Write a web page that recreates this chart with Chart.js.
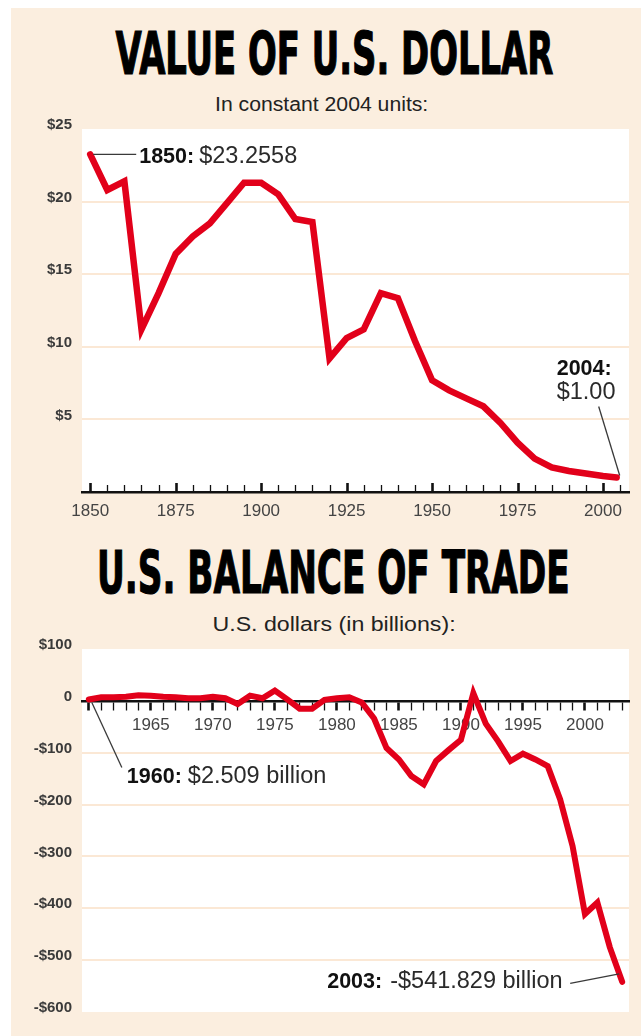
<!DOCTYPE html>
<html><head><meta charset="utf-8">
<script src="https://cdn.jsdelivr.net/npm/chart.js@4.4.1/dist/chart.umd.min.js"></script>
<style>
html,body{margin:0;padding:0;background:#fff;}
body{width:641px;height:1036px;position:relative;overflow:hidden;}
#panel{position:absolute;left:11px;top:8px;width:630px;height:1028px;background:#FBEEDF;}
.title{position:absolute;white-space:nowrap;font-family:"Liberation Sans Narrow","DejaVu Sans Condensed","Liberation Sans",sans-serif;font-weight:700;font-size:58px;line-height:1;color:#000;-webkit-text-stroke:1.2px #000;transform-origin:50% 50%;}
.sub{position:absolute;white-space:nowrap;font-family:"Liberation Sans",Arial,sans-serif;font-size:20px;line-height:1;color:#222;transform-origin:50% 50%;}
canvas{position:absolute;left:0;}
</style></head><body>
<div id="panel"></div>
<div class="title" id="title1" style="top:25px">VALUE OF U.S. DOLLAR</div>
<div class="sub" id="sub1" style="top:94px">In constant 2004 units:</div>
<canvas id="c1" width="641" height="420" style="top:110px"></canvas>
<div class="title" id="title2" style="top:544px">U.S. BALANCE OF TRADE</div>
<div class="sub" id="sub2" style="top:614px">U.S. dollars (in billions):</div>
<canvas id="c2" width="641" height="406" style="top:630px"></canvas>
<script>
// ---------- DATA ----------
const dollarYears = [1850,1855,1860,1865,1870,1875,1880,1885,1890,1895,1900,1905,1910,1915,1920,1925,1930,1935,1940,1945,1950,1955,1960,1965,1970,1975,1980,1985,1990,1995,2000,2004];
const dollarValues = [23.2558,20.8,21.4,11.2,13.7,16.4,17.6,18.5,19.9,21.3,21.3,20.5,18.8,18.6,9.2,10.6,11.2,13.7,13.35,10.4,7.7,7.0,6.45,5.9,4.76,3.4,2.3,1.7,1.45,1.27,1.1,1.0];
const dollarTickYears = [1850,1855,1860,1865,1870,1875,1880,1885,1890,1895,1900,1905,1910,1915,1920,1925,1930,1935,1940,1945,1950,1955,1960,1965,1970,1975,1980,1985,1990,1995,2000,2005];
const dollarTickLabels = [1850,1875,1900,1925,1950,1975,2000];
const dollarYTicks = [0,5,10,15,20,25];

const tradeYears = [1960,1961,1962,1963,1964,1965,1966,1967,1968,1969,1970,1971,1972,1973,1974,1975,1976,1977,1978,1979,1980,1981,1982,1983,1984,1985,1986,1987,1988,1989,1990,1991,1992,1993,1994,1995,1996,1997,1998,1999,2000,2001,2002,2003];
const tradeValues = [2.509,7,7,8,11,10,8,7,5,5,8,5,-6,10,5,20,3,-15,-15,2,5,7,-3,-34,-91,-113,-145,-161,-116,-95,-75,15,-44,-78,-116,-102,-113,-126,-190,-280,-411,-389,-475,-541.829];
const tradeTickLabels = [1965,1970,1975,1980,1985,1990,1995,2000];
const tradeYTicks = [-600,-500,-400,-300,-200,-100,0,100];

// ---------- STYLE ----------
const RED = '#E2001A';
const GRID = '#FBE8D5';
const SANS = '"Liberation Sans", Arial, sans-serif';

function placeText(id, cx, targetW) {
  const el = document.getElementById(id);
  const w = el.offsetWidth;
  el.style.left = (cx - w / 2) + 'px';
  el.style.transform = 'scaleX(' + (targetW / w) + ')';
}
placeText('title1', 334, 438);
placeText('sub1', 321.5, 213);
placeText('title2', 333.5, 473);
placeText('sub2', 333.5, 243);

const plotBg = {
  id: 'plotBg',
  beforeDraw(chart) {
    const {ctx, chartArea: a} = chart;
    ctx.save();
    ctx.fillStyle = '#fff';
    ctx.fillRect(a.left, a.top, a.right - a.left, a.bottom - a.top);
    ctx.restore();
  }
};

const upTicks = {
  id: 'upTicks',
  beforeDatasetsDraw(chart) {
    const x = chart.scales.x, a = chart.chartArea, ctx = chart.ctx;
    ctx.save();
    ctx.strokeStyle = '#111';
    dollarTickYears.forEach(v => {
      const major = dollarTickLabels.includes(v);
      const px = Math.round(x.getPixelForValue(v)) + 0.5;
      ctx.lineWidth = major ? 2.6 : 1.3;
      ctx.beginPath();
      ctx.moveTo(px, a.bottom);
      ctx.lineTo(px, a.bottom - (major ? 9 : 7));
      ctx.stroke();
    });
    ctx.restore();
  }
};

function drawNote(ctx, boldText, regText, x, baseline, gap) {
  ctx.save();
  ctx.textAlign = 'left';
  ctx.textBaseline = 'alphabetic';
  let w = 0;
  if (boldText) {
    ctx.font = 'bold 21.5px ' + SANS;
    ctx.fillStyle = '#111';
    ctx.fillText(boldText, x, baseline);
    w = ctx.measureText(boldText).width + gap;
  }
  if (regText) {
    ctx.font = '23.5px ' + SANS;
    ctx.fillStyle = '#2a2a2a';
    ctx.fillText(regText, x + w, baseline);
  }
  ctx.restore();
}
function leader(ctx, x1, y1, x2, y2) {
  ctx.save();
  ctx.strokeStyle = '#3a3a3a';
  ctx.lineWidth = 1.3;
  ctx.beginPath();
  ctx.moveTo(x1, y1);
  ctx.lineTo(x2, y2);
  ctx.stroke();
  ctx.restore();
}

const notes1 = {
  id: 'notes1',
  afterDraw(chart) {
    const {ctx} = chart, x = chart.scales.x, y = chart.scales.y;
    const n = dollarYears.length - 1;
    const p0 = {x: x.getPixelForValue(dollarYears[0]), y: y.getPixelForValue(dollarValues[0])};
    const pN = {x: x.getPixelForValue(dollarYears[n]), y: y.getPixelForValue(dollarValues[n])};
    leader(ctx, p0.x + 3, p0.y, p0.x + 46, p0.y);
    drawNote(ctx, dollarYears[0] + ':', '$23.2558', p0.x + 49, p0.y + 8.5, 5);
    leader(ctx, pN.x + 3, pN.y - 2, pN.x - 18, pN.y - 71);
    drawNote(ctx, dollarYears[n] + ':', '', pN.x - 60, pN.y - 102, 0);
    drawNote(ctx, '', '$1.00', pN.x - 60, pN.y - 78, 0);
  }
};

const notes2 = {
  id: 'notes2',
  afterDraw(chart) {
    const {ctx} = chart, x = chart.scales.x, y = chart.scales.y;
    const n = tradeYears.length - 1;
    const q0 = {x: x.getPixelForValue(tradeYears[0]), y: y.getPixelForValue(tradeValues[0])};
    const qN = {x: x.getPixelForValue(tradeYears[n]), y: y.getPixelForValue(tradeValues[n])};
    leader(ctx, q0.x + 3, q0.y + 3, q0.x + 33, q0.y + 68);
    drawNote(ctx, tradeYears[0] + ':', '$2.509 billion', q0.x + 38, q0.y + 83, 6);
    leader(ctx, qN.x - 3, qN.y - 8, qN.x - 52, qN.y + 1.5);
    drawNote(ctx, tradeYears[n] + ':', '-$541.829 billion', qN.x - 295, qN.y + 6.5, 8);
  }
};

const yTickFont = {family: SANS, size: 15, weight: 'bold'};
const xTickFont = {family: SANS, size: 17};

new Chart(document.getElementById('c1'), {
  type: 'line',
  data: {
    datasets: [{
      data: dollarYears.map((yr, i) => ({x: yr, y: dollarValues[i]})),
      borderColor: RED, borderWidth: 6.5, pointRadius: 0, tension: 0, fill: false,
      borderJoinStyle: 'miter', borderCapStyle: 'round'
    }]
  },
  options: {
    responsive: false, animation: false, devicePixelRatio: 1,
    layout: {padding: {left: 0, right: 12, top: 13, bottom: 0}},
    plugins: {legend: {display: false}, tooltip: {enabled: false}, title: {display: false}},
    scales: {
      x: {
        type: 'linear', min: 1847.6, max: 2007.6, position: 'bottom',
        afterBuildTicks: s => { s.ticks = dollarTickYears.map(v => ({value: v})); },
        afterFit: s => { s.height = 38; },
        grid: {display: true, drawOnChartArea: false, drawTicks: false},
        border: {display: true, color: '#111', width: 2.5},
        ticks: {
          autoSkip: false, maxRotation: 0, padding: 9, color: '#444', font: xTickFont,
          callback: v => dollarTickLabels.includes(v) ? String(v) : ''
        }
      },
      y: {
        type: 'linear', min: 0, max: 25,
        afterBuildTicks: s => { s.ticks = dollarYTicks.map(v => ({value: v})); },
        afterFit: s => { s.width = 82; },
        grid: {
          color: c => (c.tick && c.tick.value > 0 && c.tick.value < 25) ? GRID : 'rgba(0,0,0,0)',
          lineWidth: 2, drawTicks: false
        },
        border: {display: false},
        ticks: {
          padding: 10, labelOffset: -4, color: '#3a3a3a', font: yTickFont,
          callback: v => v === 0 ? '' : '$' + v
        }
      }
    }
  },
  plugins: [plotBg, upTicks, notes1]
});

new Chart(document.getElementById('c2'), {
  type: 'line',
  data: {
    datasets: [{
      data: tradeYears.map((yr, i) => ({x: yr, y: tradeValues[i]})),
      borderColor: RED, borderWidth: 6, pointRadius: 0, tension: 0, fill: false,
      borderJoinStyle: 'miter', borderCapStyle: 'round'
    }]
  },
  options: {
    responsive: false, animation: false, devicePixelRatio: 1,
    layout: {padding: {left: 0, right: 12, top: 14, bottom: 24}},
    plugins: {legend: {display: false}, tooltip: {enabled: false}, title: {display: false}},
    scales: {
      x: {
        type: 'linear', min: 1959.45, max: 2003.55, position: {y: 0},
        afterBuildTicks: s => { s.ticks = tradeYears.map(v => ({value: v})); },
        grid: {
          display: true, drawOnChartArea: false, drawTicks: true, tickLength: 8,
          tickColor: '#111',
          tickWidth: c => (c.tick && c.tick.value % 5 === 0) ? 2.6 : 1.3
        },
        border: {display: true, color: '#111', width: 2.5},
        ticks: {
          autoSkip: false, maxRotation: 0, padding: 6, color: '#444', font: xTickFont,
          callback: v => tradeTickLabels.includes(v) ? String(v) : ''
        }
      },
      y: {
        type: 'linear', min: -600, max: 100,
        afterBuildTicks: s => { s.ticks = tradeYTicks.map(v => ({value: v})); },
        afterFit: s => { s.width = 82; },
        grid: {
          color: c => (c.tick && c.tick.value < 0 && c.tick.value > -600) ? GRID : 'rgba(0,0,0,0)',
          lineWidth: 2, drawTicks: false
        },
        border: {display: false},
        ticks: {
          padding: 10, labelOffset: -4, color: '#3a3a3a', font: yTickFont,
          callback: v => v === 0 ? '0' : (v > 0 ? '$' + v : '-$' + (-v))
        }
      }
    }
  },
  plugins: [plotBg, notes2]
});
</script>
</body></html>
